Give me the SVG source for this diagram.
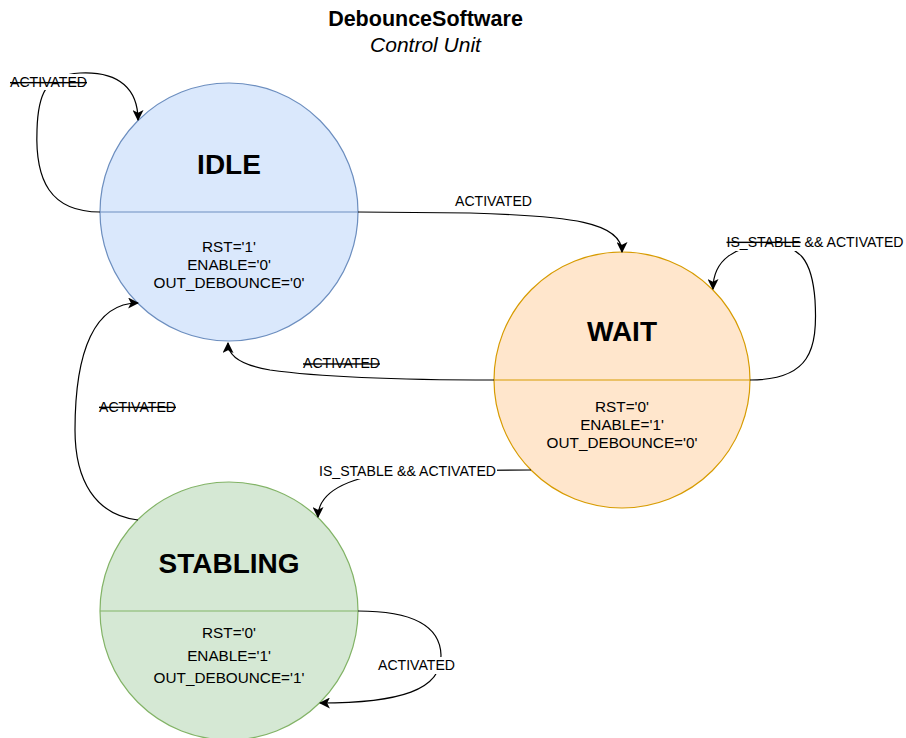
<svg xmlns="http://www.w3.org/2000/svg" width="906" height="738" viewBox="0 0 906 738">
<style>
text{font-family:"Liberation Sans",Arial,sans-serif;fill:#000}
.title{font-size:28px;font-weight:bold;text-anchor:middle}
.body{font-size:15.3px;text-anchor:middle}
.lbl{font-size:14.1px}
.edge{fill:none;stroke:#000;stroke-width:1.2}
.strike{text-decoration:line-through}
.bg{fill:#fff}
</style>
<defs>
<marker id="arr" viewBox="0 0 10 10" refX="9" refY="5" markerWidth="11" markerHeight="11" markerUnits="userSpaceOnUse" orient="auto">
<path d="M0,0 L10,5 L0,10 L2.5,5 Z" fill="#000"/>
</marker>
</defs>
<rect width="906" height="738" fill="#fff"/>
<g id="heading">
<text x="425.5" y="26" style="font-size:21.5px;font-weight:bold" text-anchor="middle">DebounceSoftware</text>
<text x="425.5" y="52" style="font-size:21px;font-style:italic" text-anchor="middle">Control Unit</text>
</g>
<g id="node-idle">
<circle cx="229" cy="212" r="129" fill="#dae8fc" stroke="#6c8ebf" stroke-width="1.2"/>
<line x1="100" y1="212" x2="358" y2="212" stroke="#6c8ebf" stroke-width="1.2"/>
<text class="title" x="229" y="174">IDLE</text>
<text class="body" x="229" y="251.5">RST='1'</text>
<text class="body" x="229" y="269.5">ENABLE='0'</text>
<text class="body" x="229" y="287.5">OUT_DEBOUNCE='0'</text>
</g>
<g id="node-wait">
<circle cx="622" cy="380" r="128" fill="#ffe6cc" stroke="#d79b00" stroke-width="1.2"/>
<line x1="494" y1="380" x2="750" y2="380" stroke="#d79b00" stroke-width="1.2"/>
<text class="title" x="622" y="341">WAIT</text>
<text class="body" x="622" y="411.5">RST='0'</text>
<text class="body" x="622" y="430">ENABLE='1'</text>
<text class="body" x="622" y="448.3">OUT_DEBOUNCE='0'</text>
</g>
<g id="node-stabling">
<circle cx="229" cy="611" r="129" fill="#d5e8d4" stroke="#82b366" stroke-width="1.2"/>
<line x1="100" y1="611" x2="358" y2="611" stroke="#82b366" stroke-width="1.2"/>
<text class="title" x="229" y="572.5">STABLING</text>
<text class="body" x="229" y="638.3">RST='0'</text>
<text class="body" x="229" y="660.7">ENABLE='1'</text>
<text class="body" x="229" y="683.3">OUT_DEBOUNCE='1'</text>
</g>
<g id="connectors">
<path class="edge" marker-end="url(#arr)" d="M100,212 C50,212 35,180 37,130 C38,95 45,75 80,73 C120,71 138,90 138,120"/>
<path class="edge" marker-end="url(#arr)" d="M358,212 L470,213 C570,216 622,222 622,252"/>
<path class="edge" marker-end="url(#arr)" d="M750,380 C810,380 818,350 815,300 C812,260 800,245 770,245 C735,245 713,260 713,289"/>
<path class="edge" marker-end="url(#arr)" d="M494,380 C400,380 320,377 270,370 C240,365 228,355 228,343"/>
<path class="edge" marker-end="url(#arr)" d="M531,470 L400,471 C340,478 318,495 318,517"/>
<path class="edge" marker-end="url(#arr)" d="M138,520 C95,515 75,480 75,430 C75,350 95,303 138,303"/>
<path class="edge" marker-end="url(#arr)" d="M358,611 C410,611 440,625 441,655 C442,690 400,703 320,703"/>
<g id="labels">
<rect class="bg" x="9" y="74" width="80" height="16"/>
<text class="lbl strike" x="10" y="87">ACTIVATED</text>
<text class="lbl" x="455" y="205.7">ACTIVATED</text>
<rect class="bg" x="725" y="234" width="180" height="17"/>
<text class="lbl" x="726.5" y="246.7"><tspan class="strike">IS_STABLE</tspan> &amp;&amp; ACTIVATED</text>
<text class="lbl strike" x="303" y="368.3">ACTIVATED</text>
<text class="lbl strike" x="99" y="411.7">ACTIVATED</text>
<rect class="bg" x="318" y="462" width="179" height="17"/>
<text class="lbl" x="319" y="475.7">IS_STABLE &amp;&amp; ACTIVATED</text>
<rect class="bg" x="377" y="657" width="78" height="17"/>
<text class="lbl" x="378" y="670">ACTIVATED</text>
</g>
</g>
</svg>
